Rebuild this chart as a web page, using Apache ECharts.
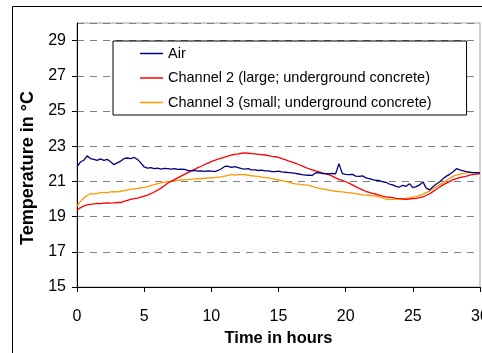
<!DOCTYPE html>
<html>
<head>
<meta charset="utf-8">
<script src="https://cdn.jsdelivr.net/npm/echarts@6/dist/echarts.min.js"></script>
<style>
  html, body { margin: 0; padding: 0; background: #fff; }
  #chart { width: 482px; height: 353px; }
</style>
</head>
<body>
<div id="chart"></div>
<script>
// Sampling times (hours)
const hours = [
  0, 0.25, 0.5, 0.75, 1, 1.25, 1.5, 1.75, 2, 2.25, 2.5, 2.75, 3, 3.25, 3.5, 3.75,
  4, 4.25, 4.5, 4.75, 5, 5.25, 5.5, 5.75, 6, 6.25, 6.5, 6.75, 7, 7.25, 7.5, 7.75,
  8, 8.25, 8.5, 8.75, 9, 9.25, 9.5, 9.75, 10, 10.25, 10.5, 10.75, 11, 11.25, 11.5, 11.75,
  12, 12.25, 12.5, 12.75, 13, 13.25, 13.5, 13.75, 14, 14.25, 14.5, 14.75, 15, 15.25, 15.5, 15.75,
  16, 16.25, 16.5, 16.75, 17, 17.25, 17.5, 17.75, 18, 18.25, 18.5, 18.75, 19, 19.25, 19.5, 19.75,
  20, 20.25, 20.5, 20.75, 21, 21.25, 21.5, 21.75, 22, 22.25, 22.5, 22.75, 23, 23.25, 23.5, 23.75,
  24, 24.25, 24.5, 24.75, 25, 25.25, 25.5, 25.75, 26, 26.25, 26.5, 26.75, 27, 27.25, 27.5, 27.75,
  28, 28.25, 28.5, 28.75, 29, 29.25, 29.5, 29.75, 30
];

// Air temperature (°C)
const air = [
  21.82, 22.10, 22.20, 22.45, 22.30, 22.25, 22.20, 22.28, 22.20, 22.25, 22.12, 21.95, 22.05, 22.15, 22.30, 22.33,
  22.30, 22.36, 22.25, 22.05, 21.82, 21.75, 21.78, 21.72, 21.75, 21.70, 21.74, 21.72, 21.70, 21.73, 21.68, 21.70,
  21.68, 21.62, 21.60, 21.62, 21.58, 21.60, 21.57, 21.60, 21.58, 21.56, 21.62, 21.72, 21.85, 21.86, 21.80, 21.84,
  21.78, 21.72, 21.70, 21.72, 21.66, 21.65, 21.62, 21.64, 21.60, 21.60, 21.56, 21.55, 21.58, 21.54, 21.52, 21.50,
  21.48, 21.46, 21.42, 21.38, 21.36, 21.35, 21.34, 21.48, 21.50, 21.45, 21.44, 21.42, 21.45, 21.43, 22.00, 21.44,
  21.40, 21.38, 21.40, 21.30, 21.28, 21.32, 21.20, 21.16, 21.10, 21.06, 21.05, 20.98, 20.95, 20.85, 20.80, 20.72,
  20.68, 20.78, 20.72, 20.87, 20.65, 20.70, 20.80, 20.97, 20.62, 20.52, 20.70, 20.85, 20.98, 21.15, 21.30, 21.40,
  21.55, 21.72, 21.65, 21.60, 21.55, 21.52, 21.50, 21.50, 21.48
];

// Channel 2 (large; underground concrete) (°C)
const channel2 = [
  19.36, 19.50, 19.60, 19.66, 19.70, 19.72, 19.75, 19.74, 19.76, 19.78, 19.77, 19.78, 19.80, 19.80, 19.86, 19.92,
  19.98, 20.02, 20.05, 20.10, 20.16, 20.22, 20.30, 20.40, 20.50, 20.62, 20.75, 20.90, 21.00, 21.10, 21.20, 21.30,
  21.40, 21.50, 21.60, 21.68, 21.78, 21.86, 21.96, 22.04, 22.12, 22.20, 22.26, 22.32, 22.38, 22.44, 22.50, 22.54,
  22.56, 22.60, 22.62, 22.60, 22.58, 22.56, 22.54, 22.52, 22.50, 22.46, 22.42, 22.40, 22.36, 22.30, 22.24, 22.16,
  22.10, 22.04, 21.96, 21.88, 21.80, 21.72, 21.66, 21.60, 21.54, 21.48, 21.44, 21.38, 21.30, 21.20, 21.12, 21.06,
  20.98, 20.90, 20.80, 20.70, 20.60, 20.52, 20.44, 20.38, 20.32, 20.27, 20.22, 20.16, 20.12, 20.10, 20.08, 20.04,
  20.02, 20.00, 19.98, 20.00, 20.02, 20.04, 20.08, 20.12, 20.20, 20.30, 20.42, 20.55, 20.68, 20.80, 20.90, 21.00,
  21.10, 21.16, 21.22, 21.26, 21.30, 21.36, 21.40, 21.42, 21.44
];

// Channel 3 (small; underground concrete) (°C)
const channel3 = [
  19.60, 19.85, 20.05, 20.20, 20.30, 20.28, 20.32, 20.36, 20.38, 20.36, 20.40, 20.42, 20.40, 20.44, 20.48, 20.52,
  20.56, 20.58, 20.60, 20.64, 20.66, 20.70, 20.76, 20.82, 20.88, 20.92, 20.96, 20.98, 21.00, 21.04, 21.06, 21.08,
  21.10, 21.10, 21.12, 21.14, 21.15, 21.16, 21.18, 21.20, 21.20, 21.22, 21.24, 21.26, 21.30, 21.34, 21.38, 21.36,
  21.40, 21.38, 21.38, 21.35, 21.32, 21.30, 21.28, 21.24, 21.22, 21.20, 21.16, 21.12, 21.08, 21.04, 21.00, 20.96,
  20.90, 20.86, 20.84, 20.82, 20.80, 20.78, 20.72, 20.66, 20.62, 20.58, 20.54, 20.50, 20.47, 20.44, 20.42, 20.40,
  20.38, 20.36, 20.33, 20.30, 20.27, 20.24, 20.22, 20.20, 20.18, 20.16, 20.12, 20.06, 20.00, 19.97, 19.98, 20.00,
  20.00, 20.02, 20.04, 20.06, 20.10, 20.14, 20.20, 20.28, 20.36, 20.45, 20.58, 20.70, 20.82, 20.92, 21.05, 21.18,
  21.30, 21.36, 21.42, 21.46, 21.48, 21.50, 21.50, 21.48, 21.48
];

const seriesNames = ['Air', 'Channel 2 (large; underground concrete)', 'Channel 3 (small; underground concrete)'];
const seriesColors = ['#000080', '#FF0000', '#FF9900'];

const FONT = '"Liberation Sans", Arial, sans-serif';

function pairs(values) {
  return hours.map((h, i) => [h, values[i]]);
}

const chart = echarts.init(document.getElementById('chart'), null, { renderer: 'canvas' });

chart.setOption({
  animation: false,
  backgroundColor: '#ffffff',
  textStyle: { fontFamily: FONT },
  graphic: [{
    type: 'rect',
    silent: true,
    z: -10,
    shape: { x: 12.5, y: 6.5, width: 520, height: 400 },
    style: { fill: 'none', stroke: '#000', lineWidth: 1 }
  }],
  grid: {
    left: 77, right: 2, top: 23, bottom: 66,
    outerBoundsMode: 'none',
    containLabel: false,
    show: true, borderColor: '#a0a0a0', borderWidth: 1, backgroundColor: 'transparent'
  },
  legend: {
    orient: 'vertical',
    left: 113, top: 41,
    padding: [5, 35, 5, 27],
    icon: 'rect',
    itemWidth: 23, itemHeight: 1.5, itemGap: 9.5,
    backgroundColor: '#fff',
    borderColor: '#000', borderWidth: 1,
    textStyle: { fontFamily: FONT, fontSize: 14.5, lineHeight: 15, color: '#000' },
    data: seriesNames
  },
  xAxis: {
    type: 'value', min: 0, max: 30, interval: 5,
    name: 'Time in hours', nameLocation: 'middle', nameGap: 43,
    nameTextStyle: { fontFamily: FONT, fontSize: 16.5, fontWeight: 'bold', color: '#000' },
    axisLine: { show: true, lineStyle: { color: '#000', width: 1 } },
    axisTick: { show: true, inside: false, length: 5, lineStyle: { color: '#000' } },
    axisLabel: { fontFamily: FONT, fontSize: 16, color: '#000', margin: 22, showMaxLabel: true },
    splitLine: { show: false }
  },
  yAxis: {
    type: 'value', min: 15, max: 30, interval: 2,
    name: 'Temperature in °C', nameLocation: 'middle', nameGap: 37,
    nameTextStyle: { fontFamily: FONT, fontSize: 18, fontWeight: 'bold', color: '#000', padding: [0, 26, 0, 0] },
    axisLine: { show: true, lineStyle: { color: '#000', width: 1 } },
    axisTick: { show: true, inside: false, length: 5, lineStyle: { color: '#000' } },
    axisLabel: { fontFamily: FONT, fontSize: 16, color: '#000', margin: 11, showMaxLabel: false },
    splitLine: { show: true, lineStyle: { color: '#808080', width: 1, type: [7, 6] } }
  },
  series: [air, channel2, channel3].map((vals, i) => ({
    name: seriesNames[i],
    type: 'line',
    symbol: 'none',
    data: pairs(vals),
    lineStyle: { color: seriesColors[i], width: 1.3 },
    itemStyle: { color: seriesColors[i] },
    z: 3 - i
  }))
});
</script>
</body>
</html>
